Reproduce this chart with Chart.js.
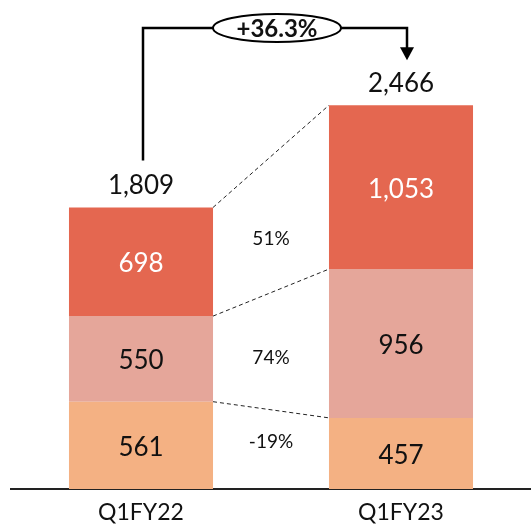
<!DOCTYPE html>
<html>
<head>
<meta charset="utf-8">
<script src="https://cdn.jsdelivr.net/npm/chart.js@4/dist/chart.umd.min.js"></script>
<style>
  html, body { margin: 0; padding: 0; background: #fff; }
  #wrap { width: 531px; height: 530px; }
</style>
</head>
<body>
<div id="wrap"><canvas id="chartRevenue"></canvas></div>
<script>
// Datos de la gráfica
const categories = ['Q1FY22', 'Q1FY23'];
const seriesBottom = [561, 457];
const seriesMiddle = [550, 956];
const seriesTop = [698, 1053];
const growthLabels = ['-19%', '74%', '51%'];   // de abajo hacia arriba
const totalGrowthLabel = '+36.3%';

const FONT = 'Lato, "Open Sans", sans-serif';

function fmt(n) {
  return n.toLocaleString('en-US');
}

// Plugin para etiquetas, líneas punteadas y flecha
const annotations = {
  id: 'annotations',
  afterDatasetsDraw(chart) {
    const ctx = chart.ctx;
    const metas = [0, 1, 2].map(i => chart.getDatasetMeta(i));

    ctx.save();
    ctx.textAlign = 'center';
    ctx.textBaseline = 'middle';

    // Valores dentro de cada segmento
    metas.forEach((meta, di) => {
      meta.data.forEach((bar, i) => {
        const v = chart.data.datasets[di].data[i];
        const cy = (bar.y + bar.base) / 2;
        ctx.fillStyle = di === 2 ? '#ffffff' : '#111111';
        ctx.font = '26px ' + FONT;
        ctx.fillText(fmt(v), bar.x, cy + 2);
      });
    });

    // Totales encima de cada barra
    const totals = categories.map((c, i) => seriesBottom[i] + seriesMiddle[i] + seriesTop[i]);
    const topBars = metas[2].data;
    topBars.forEach((bar, i) => {
      ctx.fillStyle = '#111111';
      ctx.font = '26px ' + FONT;
      ctx.fillText(fmt(totals[i]), bar.x, bar.y - 22);
    });

    // Líneas punteadas entre barras
    const b0 = metas[0].data;
    const w = b0[0].width;
    const xL = b0[0].x + w / 2;
    const xR = b0[1].x - w / 2;
    ctx.strokeStyle = '#222222';
    ctx.lineWidth = 1;
    ctx.setLineDash([4, 3]);
    metas.forEach(meta => {
      ctx.beginPath();
      ctx.moveTo(xL, meta.data[0].y);
      ctx.lineTo(xR, meta.data[1].y);
      ctx.stroke();
    });
    ctx.setLineDash([]);

    // Porcentajes de crecimiento por segmento
    const xMid = (xL + xR) / 2;
    const offsets = [-8, 7, 14];
    metas.forEach((meta, di) => {
      const c0 = (meta.data[0].y + meta.data[0].base) / 2;
      const c1 = (meta.data[1].y + meta.data[1].base) / 2;
      ctx.fillStyle = '#111111';
      ctx.font = '19px ' + FONT;
      ctx.fillText(growthLabels[di], xMid, (c0 + c1) / 2 + offsets[di]);
    });

    // Flecha de crecimiento total
    const x0 = topBars[0].x + 2;
    const x1 = topBars[1].x + 6;
    const yTop = 28;
    const yStart = topBars[0].y - 47;
    const yTip = topBars[1].y - 45;
    ctx.strokeStyle = '#000000';
    ctx.lineWidth = 2.5;
    ctx.beginPath();
    ctx.moveTo(x0, yStart);
    ctx.lineTo(x0, yTop);
    ctx.lineTo(x1, yTop);
    ctx.lineTo(x1, yTip - 12);
    ctx.stroke();
    ctx.fillStyle = '#000000';
    ctx.beginPath();
    ctx.moveTo(x1 - 7, yTip - 13);
    ctx.lineTo(x1 + 7, yTip - 13);
    ctx.lineTo(x1, yTip);
    ctx.closePath();
    ctx.fill();

    // Elipse con la etiqueta
    const ex = 277;
    ctx.beginPath();
    ctx.ellipse(ex, yTop, 64, 14, 0, 0, Math.PI * 2);
    ctx.fillStyle = '#ffffff';
    ctx.fill();
    ctx.lineWidth = 2;
    ctx.stroke();
    ctx.fillStyle = '#111111';
    ctx.font = 'bold 24px ' + FONT;
    ctx.fillText(totalGrowthLabel, ex, yTop + 1);

    ctx.restore();
  }
};

const ctx = document.getElementById('chartRevenue').getContext('2d');
const chart = new Chart(ctx, {
  type: 'bar',
  data: {
    labels: categories,
    datasets: [
      { data: seriesBottom, backgroundColor: '#F4B183' },
      { data: seriesMiddle, backgroundColor: '#E5A69A' },
      { data: seriesTop, backgroundColor: '#E46750' }
    ]
  },
  options: {
    responsive: true,
    maintainAspectRatio: false,
    animation: false,
    layout: { padding: { left: 11, right: 0, top: 0, bottom: -6 } },
    datasets: {
      bar: { categoryPercentage: 1, barPercentage: 0.554, borderWidth: 0 }
    },
    plugins: {
      legend: { display: false },
      tooltip: { enabled: false }
    },
    scales: {
      x: {
        stacked: true,
        grid: { display: false, drawTicks: false },
        border: { display: true, color: '#222222', width: 2 },
        ticks: { color: '#111111', font: { family: FONT, size: 23, lineHeight: 1 }, padding: 12 }
      },
      y: {
        stacked: true,
        display: false,
        min: 0,
        max: 3142
      }
    }
  },
  plugins: [annotations]
});
</script>
</body>
</html>
